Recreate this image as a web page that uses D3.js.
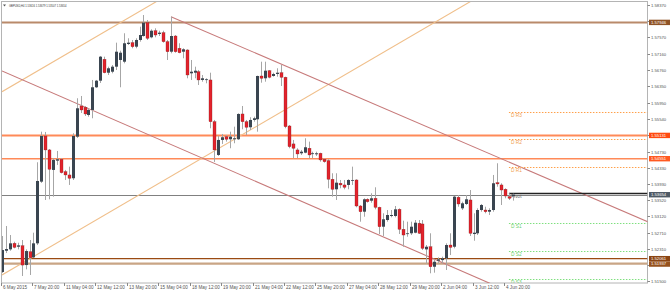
<!DOCTYPE html>
<html><head><meta charset="utf-8">
<script src="https://cdn.jsdelivr.net/npm/d3@7/dist/d3.min.js"></script>
<style>body{margin:0;background:#fff}svg{display:block}</style>
</head><body>
<script>
const symbolTitle = "GBPUSD,H4  1.53616 1.53679 1.53507 1.53654";
const opens = [1.51729,1.52258,1.52293,1.52443,1.52358,1.52383,1.51902,1.52233,1.52094,1.52443,
1.53979,1.55117,1.54769,1.54271,1.54502,1.54537,1.54228,1.54146,1.54064,1.55100,
1.55864,1.55832,1.55640,1.55765,1.56330,1.56494,1.57027,1.56693,1.56718,1.56843,
1.57010,1.56967,1.57408,1.57441,1.57341,1.57508,1.57607,1.57939,1.57575,1.57739,
1.57657,1.57690,1.57466,1.57216,1.57607,1.57301,1.57216,1.57259,1.56678,1.56693,
1.56718,1.56512,1.56512,1.56512,1.55473,1.54644,1.55018,1.55100,1.55035,1.55035,
1.55035,1.55665,1.55473,1.55334,1.55516,1.55533,1.56611,1.56554,1.56743,1.56611,
1.56661,1.56693,1.56579,1.55366,1.54919,1.54769,1.54686,1.54701,1.54811,1.54669,
1.54661,1.54686,1.54537,1.54502,1.54039,1.53789,1.53939,1.53897,1.53897,1.54004,
1.54021,1.53373,1.53231,1.53540,1.53505,1.53565,1.53340,1.52857,1.53024,1.53124,
1.53124,1.53290,1.52793,1.52675,1.52693,1.52708,1.52942,1.52925,1.52293,1.52358,
1.51860,1.52009,1.52026,1.52069,1.52401,1.52358,1.53590,1.53315,1.53423,1.53523,
1.52675,1.52693,1.53273,1.53273,1.53231,1.53273,1.53954,1.53897,1.53789,1.53605,1.53616];
const highs = [1.52626,1.52875,1.52650,1.52483,1.52458,1.52526,1.52293,1.52526,1.52708,1.54462,
1.55224,1.55217,1.54793,1.54569,1.54744,1.54569,1.54271,1.54353,1.55184,1.56056,
1.56113,1.55864,1.55807,1.56512,1.56512,1.57109,1.57092,1.56843,1.56885,1.57441,
1.57241,1.57675,1.57550,1.57508,1.57550,1.57839,1.58130,1.58006,1.57774,1.57799,
1.57739,1.57739,1.57508,1.58088,1.57632,1.57426,1.57301,1.57276,1.57010,1.56843,
1.56761,1.56636,1.56554,1.56693,1.55516,1.55117,1.55167,1.55142,1.55224,1.55349,
1.55682,1.55864,1.55516,1.55583,1.55598,1.56620,1.56967,1.56967,1.56761,1.56693,
1.56803,1.56885,1.56594,1.55391,1.55018,1.54811,1.54769,1.55060,1.54976,1.54726,
1.54726,1.54701,1.54562,1.54537,1.54188,1.54188,1.54021,1.54021,1.54039,1.54353,
1.54039,1.53398,1.53565,1.53565,1.53689,1.53839,1.53355,1.53191,1.53273,1.53273,
1.53373,1.53315,1.53007,1.52982,1.52982,1.53024,1.53024,1.53024,1.52401,1.52693,
1.52053,1.52094,1.52111,1.52443,1.52693,1.53622,1.53647,1.53480,1.53647,1.53771,
1.53191,1.53315,1.53423,1.53355,1.53315,1.54146,1.54437,1.53939,1.53814,1.53689,1.53679];
const lows = [1.51704,1.52201,1.52258,1.52318,1.52293,1.51630,1.51795,1.51655,1.52076,1.52401,
1.53947,1.53523,1.53540,1.53605,1.54395,1.54183,1.54021,1.53897,1.54021,1.55068,
1.55690,1.55615,1.55598,1.55558,1.56313,1.56437,1.56678,1.56636,1.56678,1.56761,
1.56330,1.56927,1.57383,1.57301,1.57301,1.57466,1.57590,1.57508,1.57550,1.57575,
1.57607,1.57441,1.57010,1.57176,1.57191,1.57176,1.57052,1.56554,1.56512,1.56554,
1.56387,1.56469,1.56429,1.55309,1.54470,1.54619,1.54919,1.54976,1.54811,1.54936,
1.55018,1.55284,1.55142,1.55266,1.55473,1.55224,1.56444,1.56469,1.56554,1.56594,
1.56594,1.56362,1.55309,1.54811,1.54562,1.54562,1.54644,1.54686,1.54562,1.54562,
1.54619,1.54477,1.54452,1.53814,1.53605,1.53523,1.53814,1.53789,1.53789,1.53897,
1.53340,1.52982,1.53106,1.53455,1.53455,1.53290,1.52675,1.52626,1.52982,1.53091,
1.53091,1.52675,1.52358,1.52608,1.52650,1.52693,1.52675,1.52276,1.51944,1.51697,
1.51712,1.51944,1.51944,1.51779,1.52151,1.52318,1.53355,1.53273,1.53398,1.52626,
1.52508,1.52650,1.53231,1.53191,1.53149,1.53231,1.53854,1.53398,1.53565,1.53523,1.53507];
const closes = [1.52276,1.52301,1.52443,1.52343,1.52393,1.51902,1.52251,1.52084,1.52443,1.53996,
1.55117,1.54769,1.54288,1.54520,1.54537,1.54203,1.54146,1.54064,1.55117,1.55807,
1.55765,1.55665,1.55765,1.56330,1.56494,1.57092,1.56693,1.56803,1.56843,1.57216,
1.57191,1.57426,1.57441,1.57341,1.57508,1.57632,1.57939,1.57550,1.57739,1.57632,
1.57690,1.57466,1.57216,1.57607,1.57216,1.57191,1.57276,1.56636,1.56718,1.56743,
1.56512,1.56554,1.56529,1.55473,1.54769,1.55018,1.55085,1.55035,1.55100,1.55060,
1.55665,1.55473,1.55334,1.55516,1.55558,1.56611,1.56554,1.56743,1.56579,1.56661,
1.56693,1.56579,1.55349,1.54851,1.54811,1.54669,1.54726,1.54836,1.54644,1.54686,
1.54686,1.54520,1.54477,1.54039,1.53789,1.53954,1.53897,1.53839,1.54021,1.54021,
1.53373,1.53231,1.53540,1.53480,1.53565,1.53340,1.52857,1.53042,1.53149,1.53149,
1.53290,1.52793,1.52650,1.52693,1.52857,1.52957,1.52693,1.52318,1.52358,1.51860,
1.51984,1.52044,1.52069,1.52401,1.52343,1.53605,1.53423,1.53440,1.53540,1.52693,
1.52708,1.53273,1.53398,1.53231,1.53273,1.53939,1.53922,1.53771,1.53622,1.53565,1.53654];

const timeTickBars = [0,8,16,24,32,40,48,56,64,72,80,88,96,104,112,120,128];
const timeTickLabels = ["6 May 2015","7 May 20:00","11 May 04:00","12 May 12:00","13 May 20:00",
"15 May 04:00","18 May 12:00","19 May 20:00","21 May 04:00","22 May 12:00","25 May 20:00",
"27 May 04:00","28 May 12:00","29 May 20:00","2 Jun 04:00","3 Jun 12:00","4 Jun 20:00"];
const priceTicks = [1.58370,1.57970,1.57570,1.57160,1.56760,1.56350,1.55950,1.55540,1.55140,
1.54730,1.54330,1.53930,1.53520,1.53120,1.52710,1.52310,1.51900,1.51500];

const levelPrices = [1.57946,1.55131,1.54551,1.52061,1.51937];
const currentPrice = 1.53654;
const pivotNames = ["D R3","D R2","D R1","Pivot","D S1","D S2","D S3"];
const pivotPrices = [1.55715,1.55042,1.54334,1.53685,1.52957,1.52254,1.51546];
const pivotStartBar = 129;
// trend lines: [bar1, price1, bar2, price2]
const trendLines = [[0,1.51655,119,1.58454],[0,1.56220,40,1.58505],[43,1.58088,164,1.52994],[0,1.56736,120,1.51624]];

// ---------- styles ----------
const levelStyle = [
  {line:"#b98a6a", w:2, box:"#8f5326"},
  {line:"#ff8a58", w:2, box:"#ff4a10"},
  {line:"#ff8a58", w:1.6, box:"#ff5a22"},
  {line:"#9a4a12", w:1.2, box:"#8b4513"},
  {line:"#c9a585", w:2.4, box:"#96521e"}];
const trendStyle = ["#f0bf8a","#f0bf8a","#c77a7a","#c77a7a"];

const W = 670, H = 292, L = 2, R = 647.5, T = 2, B = 283;
const svg = d3.select("body").append("svg").attr("width",W).attr("height",H)
  .style("font-family","'Liberation Sans', Arial, sans-serif");

const x = d3.scaleLinear().domain([0,128]).range([2,505]);
const y = d3.scaleLinear().domain([1.51455,1.58454]).range([B,T]);

svg.append("defs").append("clipPath").attr("id","plot").append("rect")
  .attr("x",L).attr("y",T).attr("width",R-L).attr("height",B-T);

// frame
svg.append("rect").attr("x",1.5).attr("y",1.5).attr("width",R-1.5).attr("height",B-1.5)
  .attr("fill","none").attr("stroke","#b4b4b4").attr("stroke-width",1);

const plot = svg.append("g").attr("clip-path","url(#plot)");

// horizontal levels
levelPrices.forEach((p,i)=>{
  plot.append("line").attr("x1",L).attr("x2",R).attr("y1",y(p)).attr("y2",y(p))
    .attr("stroke",levelStyle[i].line).attr("stroke-width",levelStyle[i].w);
});
// current price line
plot.append("line").attr("x1",L).attr("x2",R).attr("y1",Math.round(y(currentPrice))+0.5).attr("y2",Math.round(y(currentPrice))+0.5)
  .attr("stroke","#808080").attr("stroke-width",1);

// trend lines
trendLines.forEach((t,i)=>{
  const slope = (t[3]-t[1])/(t[2]-t[0]);
  const bEnd = 170;
  plot.append("line").attr("x1",x(t[0])).attr("y1",y(t[1]))
    .attr("x2",x(bEnd)).attr("y2",y(t[1]+slope*(bEnd-t[0])))
    .attr("stroke",trendStyle[i]).attr("stroke-width",1.1);
});

// pivots
const pivotColor = n => n==="Pivot" ? "#222" : (n.indexOf("R")>=0 ? "#ffa04a" : "#7fe07f");
const pivotText = n => n==="Pivot" ? "#666" : (n.indexOf("R")>=0 ? "#f0a050" : "#6ccf6c");
pivotPrices.forEach((p,i)=>{
  const n = pivotNames[i];
  const yy = Math.round(y(p))+0.5;
  const ln = plot.append("line").attr("x1",x(pivotStartBar)).attr("x2",R).attr("y1",yy).attr("y2",yy)
    .attr("stroke",pivotColor(n)).attr("stroke-width",n==="Pivot"?1.3:1);
  if(n!=="Pivot") ln.attr("stroke-dasharray","1.5,1.5");
  plot.append("text").attr("x",x(pivotStartBar)+2).attr("y",yy+2.8).attr("dominant-baseline","middle")
    .attr("font-size",4.8).attr("fill",pivotText(n)).text(n);
});

// candles
const bars = opens.map((o,i)=>({i,o,h:highs[i],l:lows[i],c:closes[i]}));
const cg = plot.append("g");
bars.forEach(d=>{
  const cx = Math.round(x(d.i));
  cg.append("line").attr("x1",cx+0.5).attr("x2",cx+0.5).attr("y1",y(d.h)).attr("y2",y(d.l))
    .attr("stroke","#a6a6a6").attr("stroke-width",1);
  const top = y(Math.max(d.o,d.c)), bot = y(Math.min(d.o,d.c));
  const up = d.c >= d.o;
  cg.append("rect").attr("x",cx-1).attr("y",top).attr("width",3).attr("height",Math.max(bot-top,0.8))
    .attr("fill",up?"#3a4550":"#e3232c").attr("stroke",up?"none":"#7a1a1a").attr("stroke-width",up?0:0.3);
});

// title
svg.append("path").attr("d","M3,4.5 L6,4.5 L4.5,6.5 Z").attr("fill","#555");
svg.append("text").attr("x",9).attr("y",5.8).attr("dominant-baseline","middle")
  .attr("font-size",2.7).attr("fill","#333").text(symbolTitle);

// level label boxes (positions resolved so they stack without overlapping)
const boxes = levelPrices.map((p,i)=>({p, fill:levelStyle[i].box})).concat([{p:currentPrice, fill:"#4e5a66"}])
  .map(b=>({...b, yy:y(b.p)})).sort((a,b)=>a.yy-b.yy);
const BH = 5.4;
for(let k=1;k<boxes.length;k++){
  if(boxes[k].yy - boxes[k-1].yy < BH) boxes[k].yy = boxes[k-1].yy + BH;
}

// right axis
priceTicks.forEach(p=>{
  const yy = Math.round(y(p))+0.5;
  svg.append("line").attr("x1",R).attr("x2",R+2.5).attr("y1",yy).attr("y2",yy).attr("stroke","#888");
  const hidden = boxes.some(b=>Math.abs(b.yy-yy)<4.5);
  if(!hidden) svg.append("text").attr("x",651).attr("y",yy).attr("dominant-baseline","middle")
    .attr("font-size",4.2).attr("fill","#555").text(p.toFixed(5));
});
boxes.forEach(b=>{
  svg.append("rect").attr("x",649).attr("y",b.yy-BH/2).attr("width",21).attr("height",BH).attr("fill",b.fill);
  svg.append("text").attr("x",651).attr("y",b.yy).attr("dominant-baseline","middle")
    .attr("font-size",4.2).attr("fill","#fff").text(b.p.toFixed(5));
});

// time axis
timeTickBars.forEach((b,i)=>{
  const xx = Math.round(x(b))-0.5;
  svg.append("line").attr("x1",xx).attr("x2",xx).attr("y1",B).attr("y2",B+3).attr("stroke","#888");
  svg.append("text").attr("x",xx+1.5).attr("y",288).attr("dominant-baseline","middle")
    .attr("font-size",4.6).attr("fill","#555").text(timeTickLabels[i]);
});
</script>
</body></html>
